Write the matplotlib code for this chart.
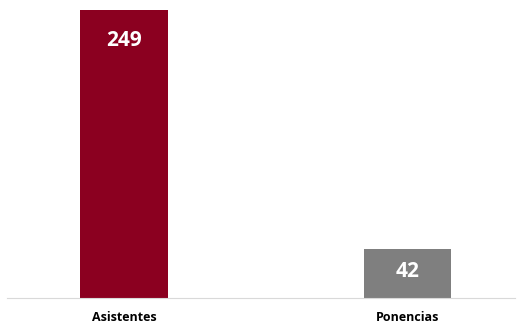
import matplotlib.pyplot as plt

categories = ["Asistentes", "Ponencias"]
values = [249, 42]
colors = ["#8B0020", "#7F7F7F"]

fig = plt.figure(figsize=(5.18, 3.24), dpi=100)
ax = fig.add_axes([0.0135, 0.0802, 0.9807, 0.889])

x = range(len(categories))
bars = ax.bar(x, values, width=0.31, color=colors)

label_drop = [31, 22]
for b, v, d in zip(bars, values, label_drop):
    ax.annotate(str(v), (b.get_x() + b.get_width() / 2, v), xytext=(0, -d * 0.72),
                textcoords="offset points", ha="center", va="center",
                color="white", fontsize=15, fontweight="bold", family="Open Sans")

ax.set_xlim(-0.413, 1.379)
ax.set_ylim(0, 249)
ax.set_xticks(list(x))
ax.set_xticklabels(categories, fontsize=9, fontweight="bold", family="Open Sans")
ax.tick_params(axis="x", length=0, pad=9)
ax.set_yticks([])
for s in ["top", "right", "left"]:
    ax.spines[s].set_visible(False)
ax.spines["bottom"].set_color("#D9D9D9")
ax.spines["bottom"].set_linewidth(0.8)

fig.savefig("out.png", dpi=100)
